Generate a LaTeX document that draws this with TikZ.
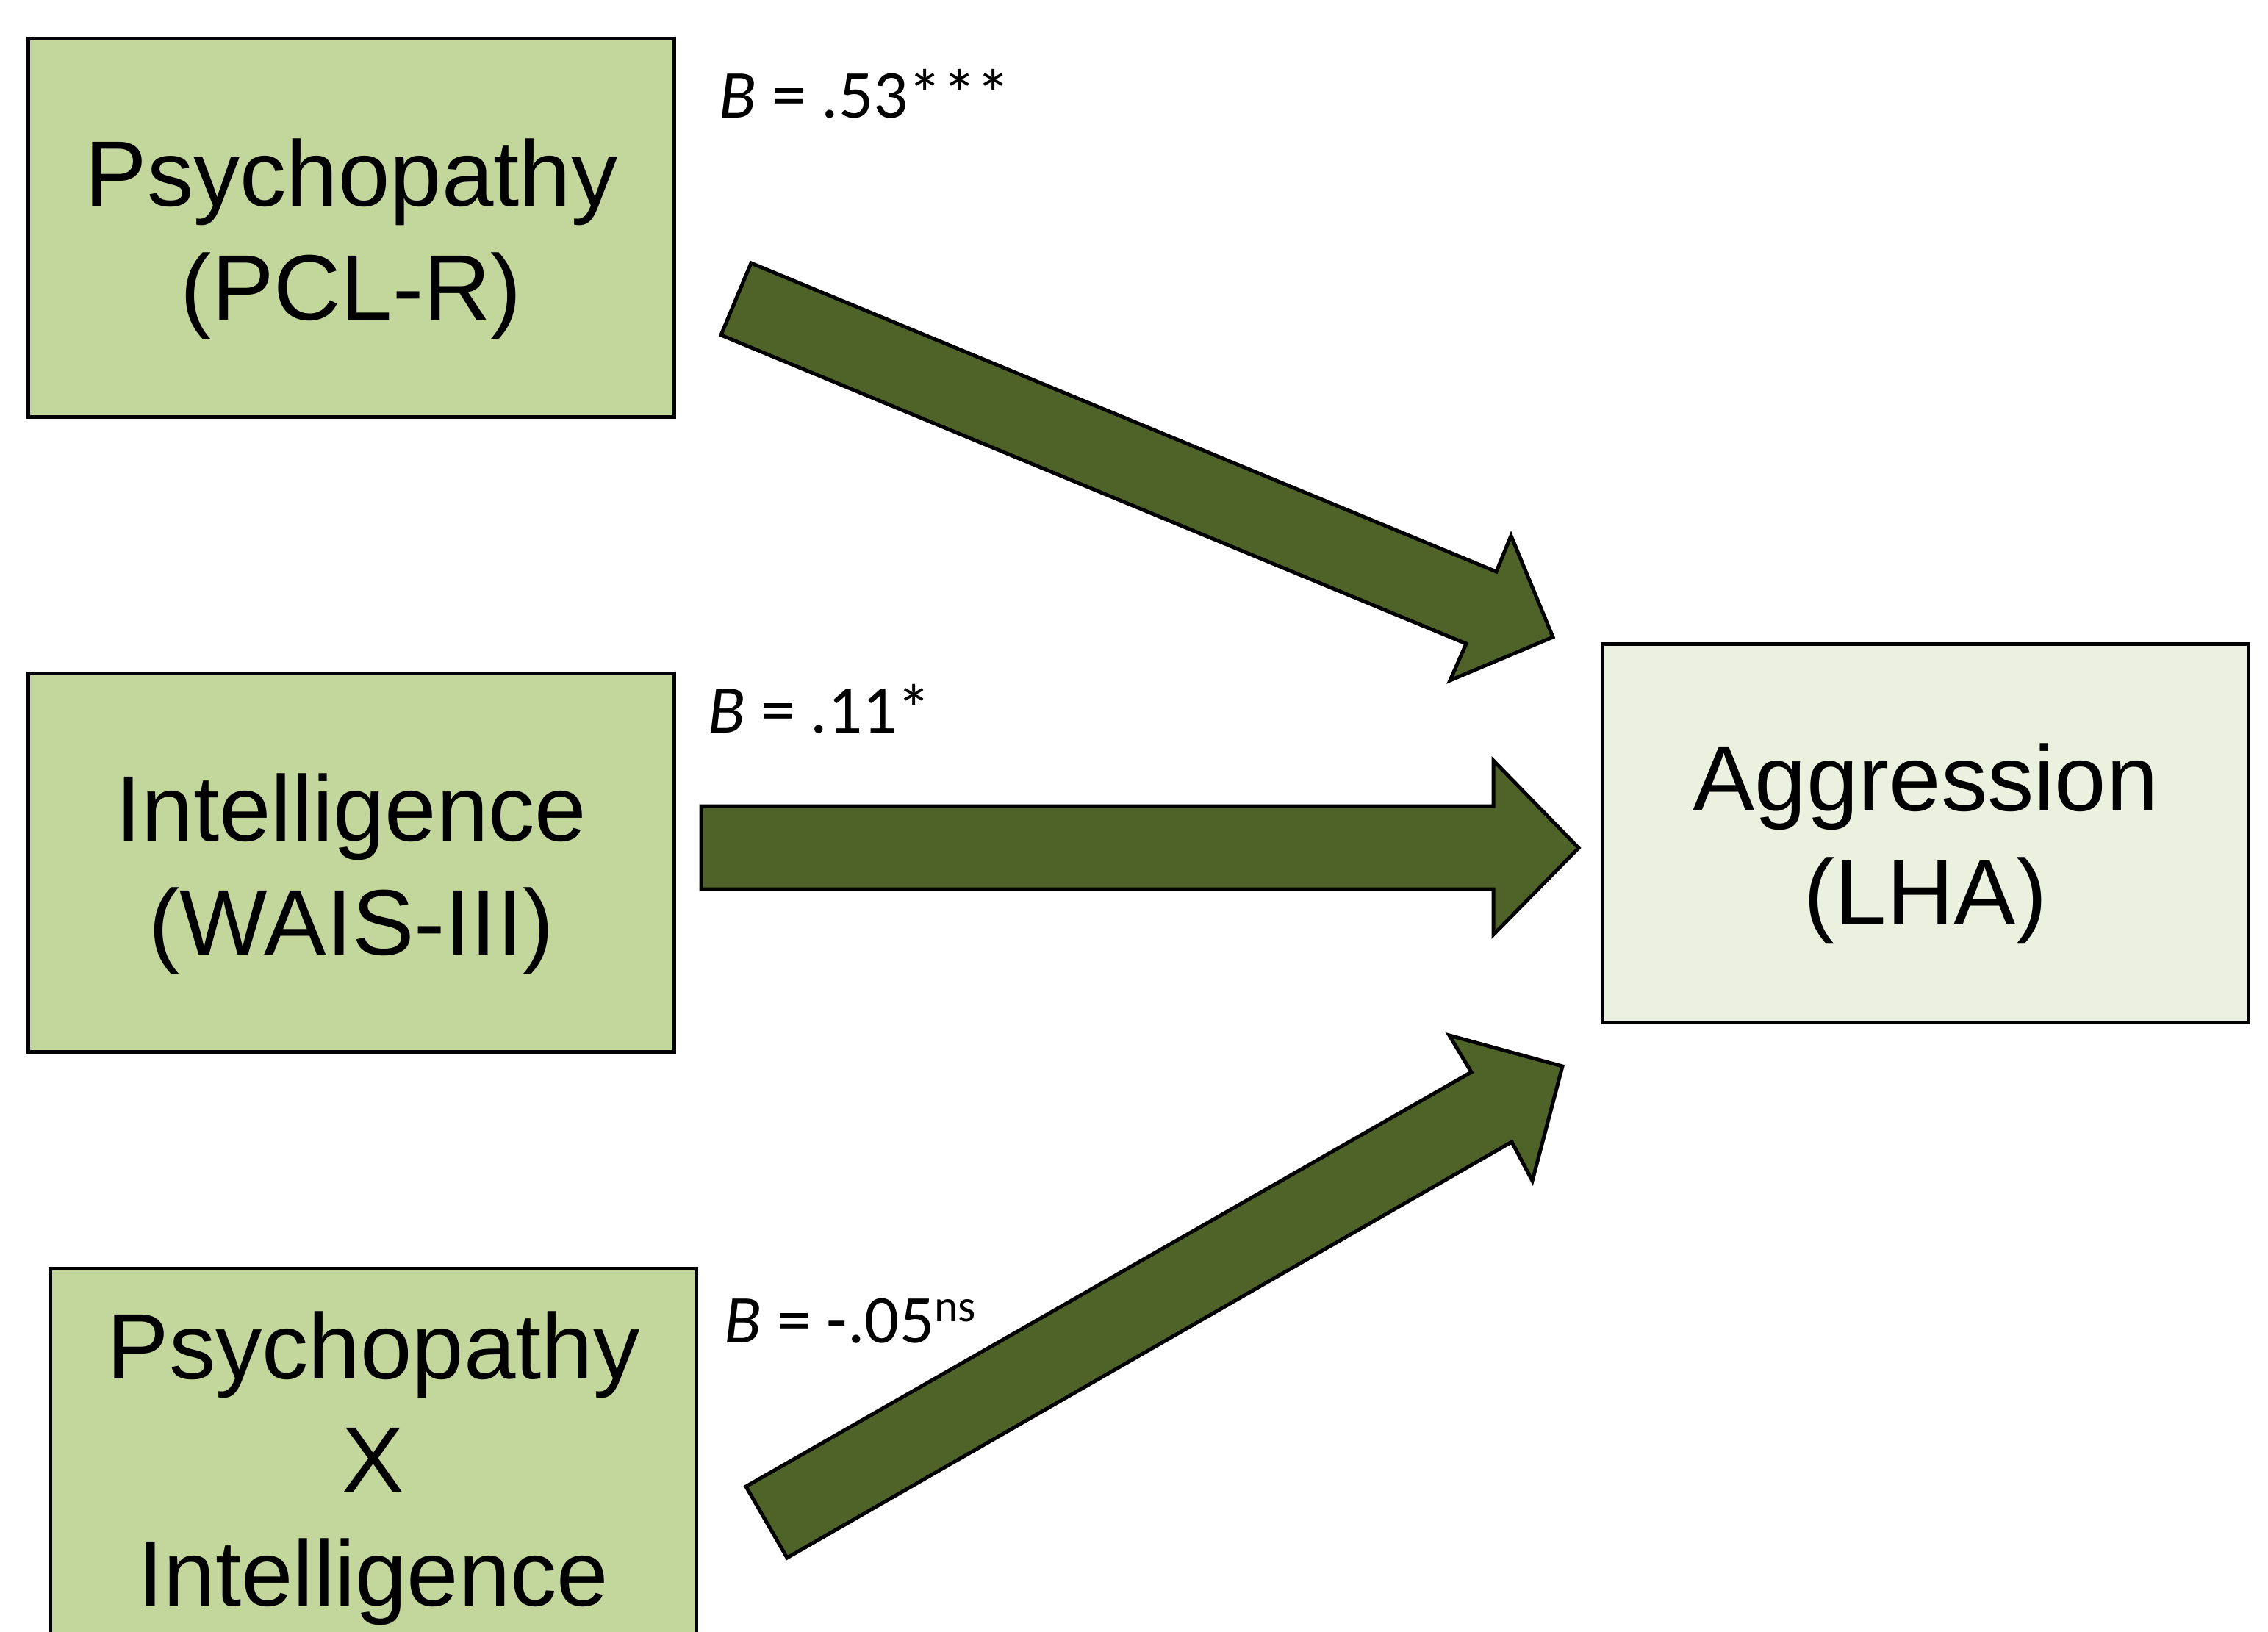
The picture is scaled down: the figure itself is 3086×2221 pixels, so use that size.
\documentclass[tikz,border=0pt]{standalone}
\usepackage{fontspec}
\setmainfont{Liberation Sans}
\newfontfamily\calibri{Carlito}
\definecolor{boxgreen}{HTML}{C3D69B}
\definecolor{outgreen}{HTML}{EBF1DE}
\definecolor{arrowgreen}{HTML}{4F6228}
\begin{document}
\begin{tikzpicture}[x=0.01cm,y=-0.01cm,
  varbox/.style={shape=rectangle, draw=black, line width=0.05cm, fill=boxgreen,
    minimum width=8.78cm, minimum height=5.14cm, inner sep=0pt},
  outbox/.style={varbox, fill=outgreen},
  boxtext/.style={align=center, inner sep=0pt, anchor=base,
    font=\fontsize{36}{43.8}\selectfont},
  coef/.style={anchor=base west, inner sep=0pt,
    font=\calibri\fontsize{26.5}{32}\selectfont},
  blockarrow/.style={draw=black, line width=0.05cm, fill=arrowgreen, line join=miter}]
\clip (0,0) rectangle (3086,2221);
\fill[white] (0,0) rectangle (3086,2221);

% boxes
\node[varbox] (psy) at (478,310) {};
\node[varbox] (iq) at (478,1174) {};
\node[varbox] (inter) at (508,1984) {};
\node[outbox] (agg) at (2620,1134) {};

% box texts (anchored at the baseline of the last line)
\node[boxtext] (psyT) at (478,435) {Psychopathy\\(PCL-R)};
\node[boxtext] (iqT) at (478,1299) {Intelligence\\(WAIS-III)};
\node[boxtext] (interT) at (508,2185) {Psychopathy\\X\\Intelligence};
\node[boxtext] (aggT) at (2620,1258) {Aggression\\(LHA)};

% block arrows
\draw[blockarrow] (1022,358) -- (2036,778) -- (2056,729) -- (2113,867)
  -- (1973,926) -- (1995,876) -- (981,456) -- cycle;
\draw[blockarrow] (954,1097) -- (2032,1097) -- (2032,1035) -- (2148,1154)
  -- (2032,1272) -- (2032,1210) -- (954,1210) -- cycle;
\draw[blockarrow] (1015,2023) -- (2002,1459) -- (1972,1409) -- (2126,1451)
  -- (2085,1607) -- (2057,1554) -- (1071,2120) -- cycle;

% coefficients
\node[coef] (c1) at (978,160) {\textit{B} = .53***};
\node[coef] (c2) at (963,997) {\textit{B} = .11*};
\node[coef] (c3) at (985,1827) {\textit{B} = -.05\raisebox{0.28cm}{\fontsize{17.6}{20}\selectfont ns}};
\end{tikzpicture}
\end{document}
